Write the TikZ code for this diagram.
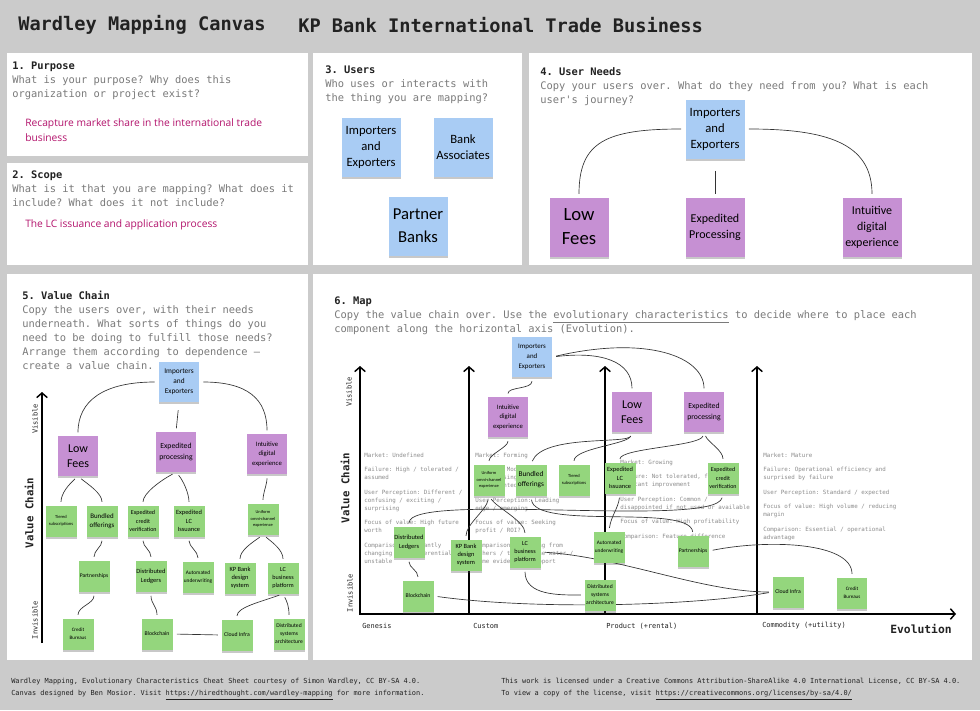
\documentclass[tikz,border=0pt]{standalone}
\usepackage{fontspec}
\setmainfont{Open Sans}
\setmonofont{DejaVu Sans Mono}
\newfontfamily\hand{Carlito}
\usetikzlibrary{positioning,arrows.meta,shadows}

\definecolor{canvasgray}{HTML}{CBCBCB}
\definecolor{promptgray}{HTML}{7A7A7A}
\definecolor{answerpink}{HTML}{B3136C}
\definecolor{traitgray}{HTML}{8C8C8C}
\definecolor{userblue}{HTML}{A9CCF4}
\definecolor{needpurple}{HTML}{C690D3}
\definecolor{compgreen}{HTML}{94D67D}
\definecolor{inkdark}{HTML}{222222}

\newcommand{\hw}[2]{\hand\fontsize{#1}{#2}\selectfont}
\newcommand{\mono}[2]{\ttfamily\fontsize{#1}{#2}\selectfont}

\pgfdeclarelayer{paper}
\pgfdeclarelayer{wires}
\pgfsetlayers{paper,wires,main}

\begin{document}
\begin{tikzpicture}[x=0.75pt, y=-0.75pt,
  prompt/.style={anchor=north west, inner sep=0pt, align=left, text=promptgray, font=\mono{7.8}{10.5}},
  answer/.style={anchor=north west, inner sep=0pt, align=left, text=answerpink, font=\fontsize{7.7}{11.25}\selectfont},
  trait/.style={anchor=north west, inner sep=0pt, align=left, text=traitgray, font=\mono{4.36}{6}},
  stage/.style={anchor=west, inner sep=0pt, text=inkdark, font=\mono{5.2}{6}},
  sidelabel/.style={rotate=90, inner sep=0pt, text=inkdark, font=\mono{5.3}{6}},
  chainlabel/.style={rotate=90, inner sep=0pt, text=inkdark, font=\mono{8}{9}\bfseries},
  sticky/.style={align=center, inner sep=0.5pt, text=black, drop shadow={shadow xshift=0pt, shadow yshift=-1.6pt, opacity=0.3, fill=black!70}},
  usernote/.style={sticky, fill=userblue},
  neednote/.style={sticky, fill=needpurple},
  compnote/.style={sticky, fill=compgreen, minimum width=23.25pt, minimum height=23.25pt},
  bignote/.style={minimum width=44.25pt, minimum height=44.25pt},
  midnote/.style={minimum width=30pt, minimum height=30pt},
  link/.style={draw=black!80, line width=0.5pt, shorten <=3pt, shorten >=2.5pt},
  axis/.style={line width=1.5pt, -{Straight Barb[length=3.5pt, width=8pt, line width=1.1pt]}}
]
\begin{pgfonlayer}{paper}
  % canvas and panels
  \fill[canvasgray] (0,0) rectangle (980,710);
  \fill[white] (7,53) rectangle (308,156);
  \fill[white] (7,163) rectangle (308,265);
  \fill[white] (313,53) rectangle (522,265);
  \fill[white] (529,53) rectangle (972,265);
  \fill[white] (7,274) rectangle (308,660);
  \fill[white] (313,274) rectangle (972,660);

  % title
  \node[anchor=west, inner sep=0pt, text=inkdark, font=\mono{14}{16}\bfseries] (title) at (18,25) {Wardley Mapping Canvas};
  \node[anchor=west, inner sep=0pt, text=inkdark, font=\mono{14}{16}\bfseries] (subject) at (298,25) {KP Bank International Trade Business};

  % prompts
  \node[prompt] (p1) at (12,61.2) {\textcolor{inkdark}{\bfseries 1. Purpose}\\What is your purpose? Why does this\\organization or project exist?};
  \node[answer] (a1) at (25,118) {Recapture market share in the international trade\\business};
  \node[prompt] (p2) at (12,170.2) {\textcolor{inkdark}{\bfseries 2. Scope}\\What is it that you are mapping? What does it\\include? What does it not include?};
  \node[answer] (a2) at (25,219) {The LC issuance and application process};
  \node[prompt] (p3) at (325,65.2) {\textcolor{inkdark}{\bfseries 3. Users}\\Who uses or interacts with\\the thing you are mapping?};
  \node[prompt] (p4) at (540,67.2) {\textcolor{inkdark}{\bfseries 4. User Needs}\\Copy your users over. What do they need from you? What is each\\user's journey?};
  \node[prompt] (p5) at (22,291.2) {\textcolor{inkdark}{\bfseries 5. Value Chain}\\Copy the users over, with their needs\\underneath. What sorts of things do you\\need to be doing to fulfill those needs?\\Arrange them according to dependence —\\create a value chain.};
  \node[prompt] (p6) at (334,296.2) {\textcolor{inkdark}{\bfseries 6. Map}\\Copy the value chain over. Use the \underline{evolutionary characteristics} to decide where to place each\\component along the horizontal axis (Evolution).};

  % evolution characteristics
  \node[trait] (tGen) at (364,452.7) {Market: Undefined\\[4.9pt]Failure: High / tolerated /\\assumed\\[4.9pt]User Perception: Different /\\confusing / exciting /\\surprising\\[4.9pt]Focus of value: High future\\worth\\[4.9pt]Comparison: Constantly\\changing / a differential /\\unstable};
  \node[trait] (tCus) at (475,452.7) {Market: Forming\\[4.9pt]Failure: Moderate /\\unsurprising but\\disappointed\\[4.9pt]User Perception: Leading\\edge / emerging\\[4.9pt]Focus of value: Seeking\\profit / ROI?\\[4.9pt]Comparison: Learning from\\others / testing the water /\\some evidential support};
  \node[trait] (tPro) at (620,459.7) {Market: Growing\\[4.9pt]Failure: Not tolerated, focus on\\constant improvement\\[4.9pt]User Perception: Common /\\disappointed if not used or available\\[4.9pt]Focus of value: High profitability\\[4.9pt]Comparison: Feature difference};
  \node[trait] (tCom) at (763,452.7) {Market: Mature\\[4.9pt]Failure: Operational efficiency and\\surprised by failure\\[4.9pt]User Perception: Standard / expected\\[4.9pt]Focus of value: High volume / reducing\\margin\\[4.9pt]Comparison: Essential / operational\\advantage};

  % value chain axis (panel 5)
  \draw[axis] (42,643) -- (42,392);
  \node[sidelabel] (vVis) at (35,419) {Visible};
  \node[chainlabel] (vVC) at (29,513) {Value Chain};
  \node[sidelabel] (vInv) at (35,620) {Invisible};

  % map axes (panel 6)
  \draw[axis] (360,615) -- (360,366);
  \draw[axis] (359,614) -- (956,614);
  \foreach \sx in {469,605,757}
    \draw[axis] (\sx,614) -- (\sx,366);
  \node[sidelabel] (mVis) at (349,392) {Visible};
  \node[chainlabel] (mVC) at (345,488) {Value Chain};
  \node[sidelabel] (mInv) at (350,593) {Invisible};
  \node[stage] (sGen) at (362,626) {Genesis};
  \node[stage] (sCus) at (473,626) {Custom};
  \node[stage] (sPro) at (606,626) {Product (+rental)};
  \node[stage] (sCom) at (762,626) {Commodity (+utility)};
  \node[anchor=west, inner sep=0pt, text=inkdark, font=\mono{8.5}{9}\bfseries] (evo) at (890,629) {Evolution};

  % footer
  \node[anchor=north west, inner sep=0pt, align=left, text=inkdark, font=\mono{5.2}{9}] (credit) at (11,678) {Wardley Mapping, Evolutionary Characteristics Cheat Sheet courtesy of Simon Wardley, CC BY-SA 4.0.\\Canvas designed by Ben Mosior. Visit \underline{https://hiredthought.com/wardley-mapping} for more information.};
  \node[anchor=north west, inner sep=0pt, align=left, text=inkdark, font=\mono{5.2}{9}] (licence) at (501,678) {This work is licensed under a Creative Commons Attribution-ShareAlike 4.0 International License, CC BY-SA 4.0.\\To view a copy of the license, visit \underline{https://creativecommons.org/licenses/by-sa/4.0/}};
\end{pgfonlayer}

% 3. Users
\node[usernote, bignote, font=\hw{9.5}{12}] (uIE) at (371,147) {Importers\\and\\Exporters};
\node[usernote, bignote, font=\hw{9.5}{12}] (uBA) at (463,147) {Bank\\Associates};
\node[usernote, bignote, font=\hw{12.5}{17}] (uPB) at (418,226) {Partner\\Banks};

% 4. User Needs
\node[usernote, bignote, font=\hw{9.5}{12}] (nIE) at (715,129) {Importers\\and\\Exporters};
\node[neednote, bignote, font=\hw{14}{18}] (nLF) at (579,227) {Low\\Fees};
\node[neednote, bignote, font=\hw{9}{12}] (nEP) at (715,227) {Expedited\\Processing};
\node[neednote, bignote, font=\hw{9}{12}] (nIDE) at (872,227) {Intuitive\\digital\\experience};

% 5. Value Chain
\node[usernote, midnote, font=\hw{5.5}{7.5}] (vIE) at (179,382) {Importers\\and\\Exporters};
\node[neednote, midnote, font=\hw{9}{11}] (vLF) at (78,456) {Low\\Fees};
\node[neednote, midnote, font=\hw{5.8}{8}] (vEP) at (176,452) {Expedited\\processing};
\node[neednote, midnote, font=\hw{5}{7.2}] (vIDE) at (267,454) {Intuitive\\digital\\experience};
\node[compnote, font=\hw{3.4}{5}] (vTS) at (61,521) {Tiered\\subscriptions};
\node[compnote, font=\hw{5.2}{7}] (vBO) at (102,521) {Bundled\\offerings};
\node[compnote, font=\hw{4.5}{6.2}] (vCV) at (143,521) {Expedited\\credit\\verification};
\node[compnote, font=\hw{4.8}{6.4}] (vLC) at (189,521) {Expedited\\LC\\Issuance};
\node[compnote, font=\hw{3.3}{5}] (vUO) at (263,519) {Uniform\\omni-channel\\experience};
\node[compnote, font=\hw{4.2}{6}] (vPA) at (94,576) {Partnerships};
\node[compnote, font=\hw{4.8}{6.6}] (vDL) at (151,576) {Distributed\\Ledgers};
\node[compnote, font=\hw{4}{5.8}] (vAU) at (198,577) {Automated\\underwriting};
\node[compnote, font=\hw{4.8}{6.2}] (vKP) at (240,578) {KP Bank\\design\\system};
\node[compnote, font=\hw{4.6}{6.2}] (vLB) at (283,578) {LC\\business\\platform};
\node[compnote, font=\hw{3.8}{5.8}] (vCB) at (78,634) {Credit\\Bureaus};
\node[compnote, font=\hw{4.3}{6}] (vBC) at (157,634) {Blockchain};
\node[compnote, font=\hw{4.3}{6}] (vCI) at (237,635) {Cloud Infra};
\node[compnote, font=\hw{4.2}{6}] (vDS) at (289,634) {Distributed\\systems\\architecture};

% 6. Map
\node[usernote, midnote, font=\hw{5.2}{7.4}] (mIE) at (532,357) {Importers\\and\\Exporters};
\node[neednote, midnote, font=\hw{5}{7.2}] (mIDE) at (508,417) {Intuitive\\digital\\experience};
\node[neednote, midnote, font=\hw{9}{11}] (mLF) at (632,412) {Low\\Fees};
\node[neednote, midnote, font=\hw{5.8}{8}] (mEP) at (704,412) {Expedited\\processing};
\node[compnote, font=\hw{3.3}{5}] (mUO) at (489,480) {Uniform\\omni-channel\\experience};
\node[compnote, font=\hw{5.5}{7.4}] (mBO) at (531,480) {Bundled\\offerings};
\node[compnote, font=\hw{3.4}{5}] (mTS) at (574,480) {Tiered\\subscriptions};
\node[compnote, font=\hw{4.8}{6.4}] (mLC) at (620,478) {Expedited\\LC\\Issuance};
\node[compnote, font=\hw{4.5}{6.2}] (mCV) at (723,478) {Expedited\\credit\\verification};
\node[compnote, font=\hw{4.8}{6.6}] (mDL) at (409,542) {Distributed\\Ledgers};
\node[compnote, font=\hw{4.8}{6.2}] (mKP) at (466,555) {KP Bank\\design\\system};
\node[compnote, font=\hw{4.6}{6.2}] (mLB) at (525,552) {LC\\business\\platform};
\node[compnote, font=\hw{4}{5.8}] (mAU) at (609,547) {Automated\\underwriting};
\node[compnote, font=\hw{4.2}{6}] (mPA) at (693,551) {Partnerships};
\node[compnote, font=\hw{4.3}{6}] (mBC) at (418,596) {Blockchain};
\node[compnote, font=\hw{4.2}{6}] (mDS) at (600,595) {Distributed\\systems\\architecture};
\node[compnote, font=\hw{4.3}{6}] (mCI) at (788,592) {Cloud Infra};
\node[compnote, minimum width=22pt, font=\hw{3.8}{5.8}] (mCB) at (852,593) {Credit\\Bureaus};

\begin{pgfonlayer}{wires}
  % user needs
  \draw[link] (nIE.west) .. controls +(-80,0) and +(0,-55) .. (nLF.north);
  \draw[link] (nIE.east) .. controls +(80,0) and +(0,-55) .. (nIDE.north);
  \draw[link, shorten <=9pt] (nIE.south) -- (nEP.north);

  % value chain
  \draw[link] (vIE.west) .. controls +(-55,0) and +(0,-35) .. (vLF.north);
  \draw[link] (vIE.east) .. controls +(48,0) and +(0,-35) .. (vIDE.north);
  \draw[link, shorten <=6pt] (vIE.south) -- (vEP.north);
  \draw[link] (vLF.south) .. controls +(-9,8) and +(0,-12) .. (vTS.north);
  \draw[link] (vLF.south) .. controls +(10,8) and +(0,-12) .. (vBO.north);
  \draw[link] (vEP.south) .. controls +(-15,8) and +(0,-12) .. (vCV.north);
  \draw[link] (vEP.south) .. controls +(7,8) and +(0,-12) .. (vLC.north);
  \draw[link] (vIDE.south) .. controls +(0,10) and +(0,-10) .. (vUO.north);
  \draw[link] (vUO.south) .. controls +(-11,8) and +(0,-12) .. (vKP.north);
  \draw[link] (vUO.south) .. controls +(10,8) and +(0,-12) .. (vLB.north);
  \draw[link] (vBO.south) .. controls +(0,10) and +(0,-10) .. (vPA.north);
  \draw[link] (vPA.south) .. controls +(0,12) and +(0,-12) .. (vCB.north);
  \draw[link] (vCV.south) .. controls +(0,10) and +(0,-10) .. (vDL.north);
  \draw[link] (vLC.south) .. controls +(0,10) and +(0,-10) .. (vAU.north);
  \draw[link] (vDL.south) .. controls +(0,12) and +(0,-12) .. (vBC.north);
  \draw[link] (vBC.east) -- (vCI.west);
  \draw[link] (vLB.south) .. controls +(-22,8) and +(0,-12) .. (vCI.north);
  \draw[link] (vLB.south) .. controls +(4,8) and +(0,-12) .. (vDS.north);

  % map
  \draw[link] (mIE.south) .. controls +(0,12) and +(0,-10) .. (mIDE.north);
  \draw[link] (mIE.east) .. controls +(50,-6) and +(0,-30) .. (mLF.north);
  \draw[link] (mIE.east) .. controls +(95,-22) and +(0,-35) .. (mEP.north);
  \draw[link] (mLF.south) .. controls +(-4,12) and +(12,-30) .. (mBO.north);
  \draw[link] (mLF.south) .. controls +(-4,12) and +(0,-16) .. (mTS.north);
  \draw[link] (mEP.south) .. controls +(-4,14) and +(0,-14) .. (mLC.north);
  \draw[link] (mEP.south) .. controls +(4,10) and +(0,-12) .. (mCV.north);
  \draw[link] (mIDE.south) .. controls +(0,10) and +(0,-10) .. (mUO.north);
  \draw[link] (mUO.south) .. controls +(-3,15) and +(0,-15) .. (mKP.north);
  \draw[link] (mUO.south) .. controls +(8,12) and +(0,-15) .. (mLB.north);
  \draw[link] (mBO.south) .. controls +(4,35) and +(-3,-32) .. (mPA.north);
  \draw[link] (mPA.east) .. controls +(60,-12) and +(0,-35) .. (mCB.north);
  \draw[link] (mCV.south) .. controls +(-8,35) and +(0,-35) .. (mDL.north);
  \draw[link] (mLC.south) .. controls +(-2,15) and +(2,-15) .. (mAU.north);
  \draw[link] (mDL.south) .. controls +(0,10) and +(0,-10) .. (mBC.north);
  \draw[link] (mBC.east) .. controls +(100,14) and +(-80,14) .. (mCI.west);
  \draw[link] (mLB.east) .. controls +(80,5) and +(-70,0) .. (mCI.west);
  \draw[link] (mLB.south) .. controls +(0,28) and +(-25,0) .. (mDS.west);
\end{pgfonlayer}
\end{tikzpicture}
\end{document}
